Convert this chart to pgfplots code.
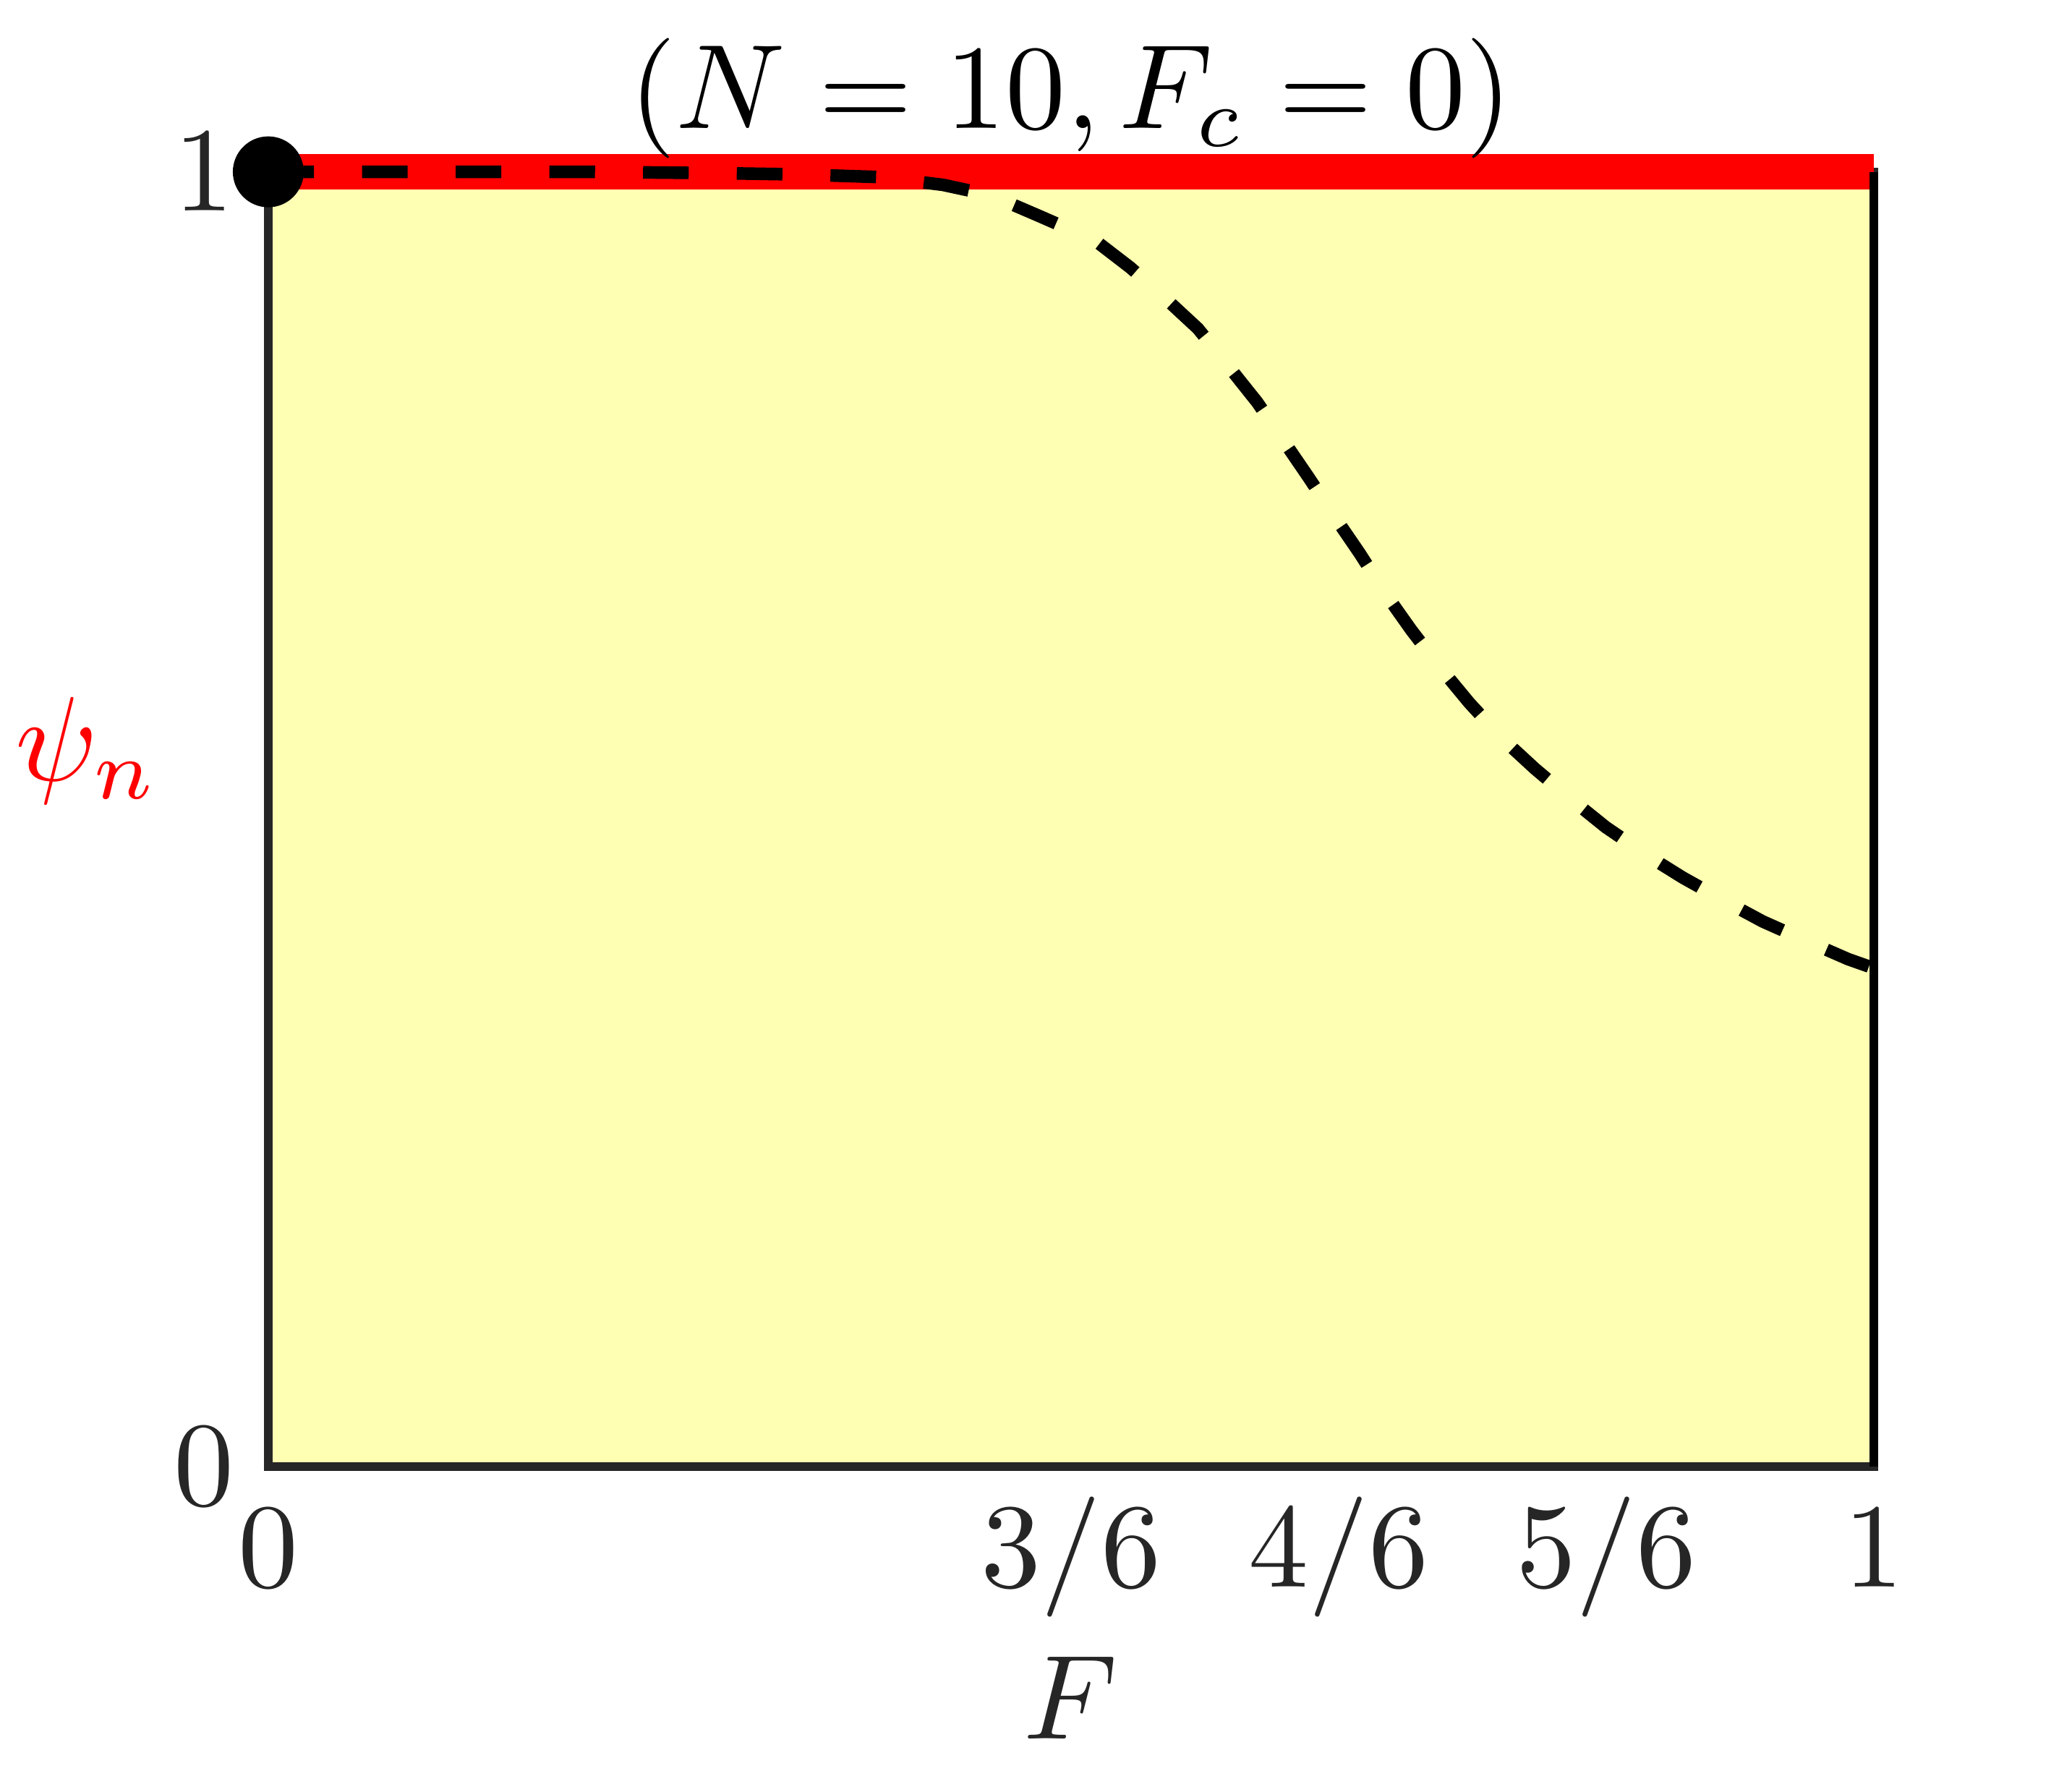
\documentclass[border=0pt]{standalone}
\usepackage{pgfplots}
\pgfplotsset{compat=1.18}
\definecolor{axgray}{HTML}{262626}
\definecolor{bgyellow}{HTML}{FFFFB3}
\begin{document}
\begin{tikzpicture}
\begin{axis}[
  scale only axis, width=133.65pt, height=107.8pt,
  xmin=0, xmax=1, ymin=0, ymax=1,
  axis line style={axgray, line width=0.7pt},
  axis background/.style={fill=bgyellow},
  xtick={0,0.5,0.666667,0.833333,1},
  xticklabels={$0$,$3/6$,$4/6$,$5/6$,$1$},
  ytick={0,1}, yticklabels={$0$,$1$},
  major tick length=0pt,
  tick label style={color=axgray},
  xticklabel style={text height=7.5pt, text depth=2.5pt, yshift=1.0pt},
  yticklabel style={xshift=0.7pt},
  clip=false,
  title={$(N=10,F_c=0)$},
  every axis title/.style={at={(rel axis cs:0.5,1)}, anchor=base, yshift=3.6pt},
  xlabel={$F$},
  every axis x label/.style={at={(rel axis cs:0.5,0)}, anchor=north, inner sep=0pt, yshift=-15.6pt, text=axgray},
  ylabel={$\psi_n$},
  every axis y label/.style={at={(rel axis cs:0,0.553)}, anchor=east, inner sep=0pt, xshift=-8.9pt, text=red},
]
\addplot[red, line width=2.95pt, line cap=butt] coordinates {(0,1) (1,1)};
\addplot[black, line width=1.05pt, dash pattern=on 3.8pt off 4.0pt, line cap=butt] coordinates {
(0,1) (0.1,1) (0.2,1) (0.28,0.999) (0.33,0.998) (0.38,0.996) (0.42,0.990)
(0.45,0.982) (0.48,0.966) (0.515,0.947) (0.537,0.926) (0.559,0.902)
(0.579,0.879) (0.598,0.850) (0.616,0.822) (0.632,0.793) (0.648,0.764)
(0.664,0.734) (0.680,0.705) (0.696,0.674) (0.712,0.646) (0.730,0.617)
(0.748,0.590) (0.768,0.563) (0.789,0.539) (0.811,0.516) (0.833,0.494)
(0.859,0.472) (0.881,0.455) (0.907,0.437) (0.931,0.421) (0.960,0.405)
(0.984,0.392) (1.0,0.385)};
\addplot[only marks, mark=*, mark size=2.75pt, black] coordinates {(0,1)};
\draw[black, line width=0.7pt] (rel axis cs:1,0) -- (rel axis cs:1,1);
\coordinate (bbA) at (rel axis cs:-0.1671,-0.2408);
\coordinate (bbB) at (rel axis cs:1.1235,1.1327);
\end{axis}
\pgfresetboundingbox
\path[use as bounding box] (bbA) rectangle (bbB);
\end{tikzpicture}
\end{document}
